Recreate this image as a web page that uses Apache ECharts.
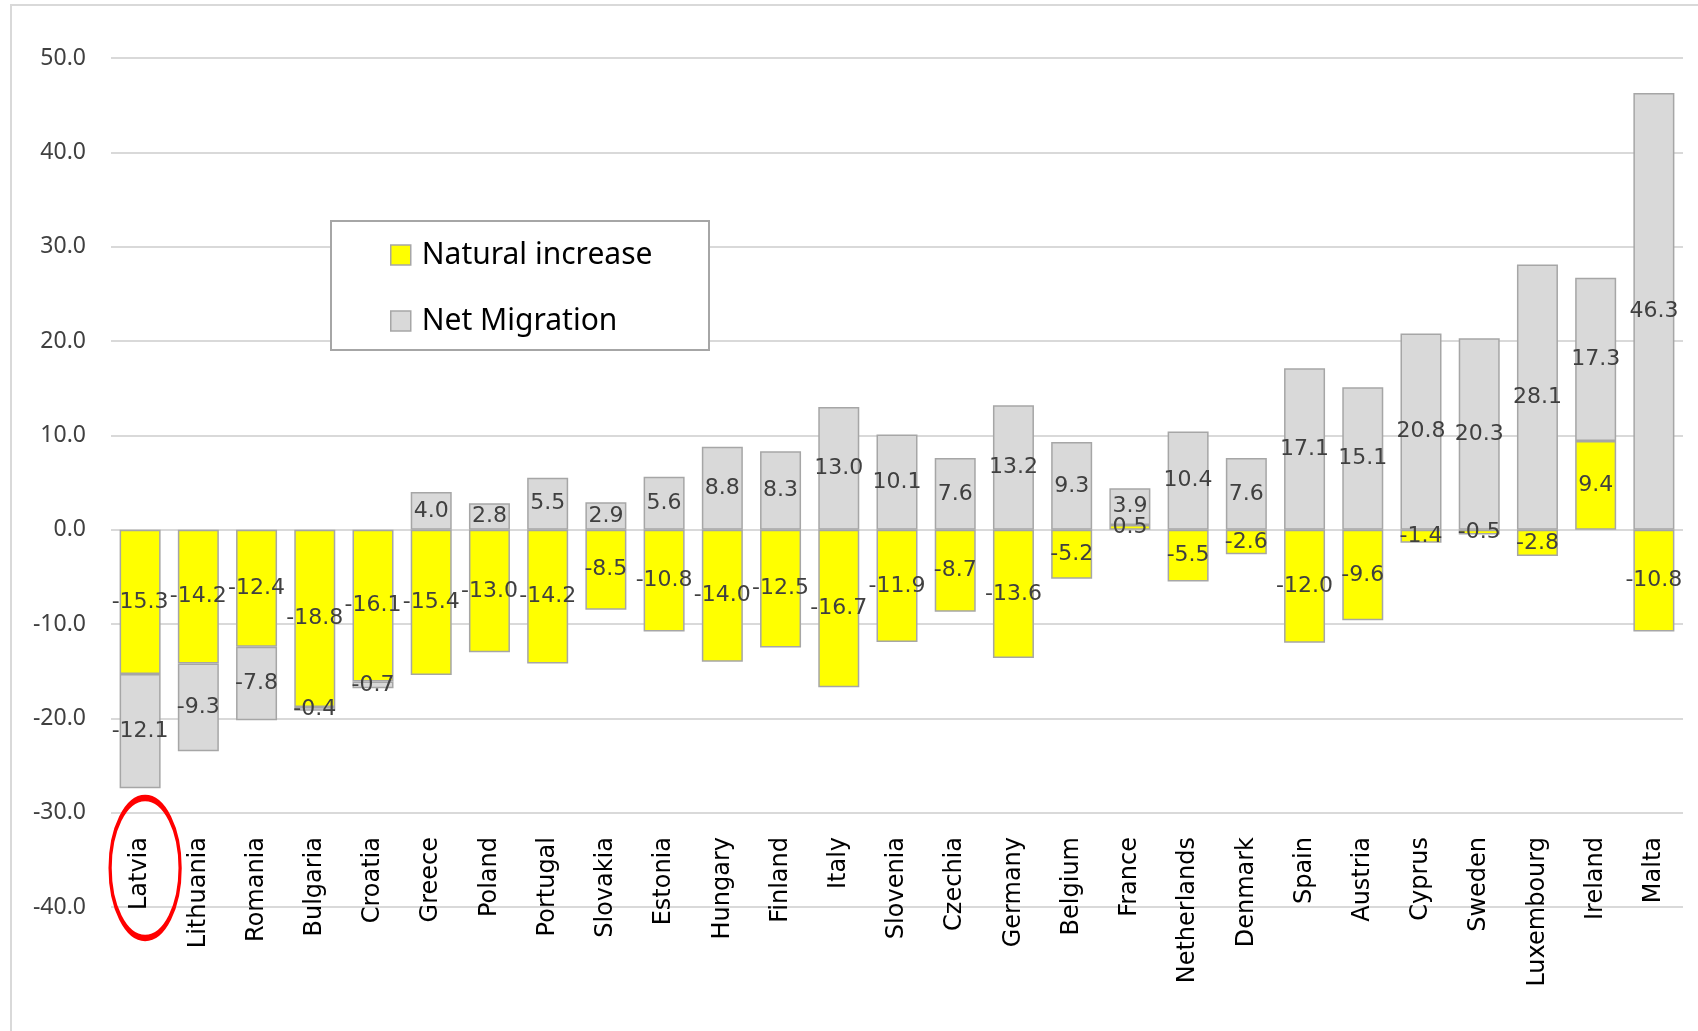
<!DOCTYPE html>
<html>
<head>
<meta charset="utf-8">
<script src="https://cdn.jsdelivr.net/npm/echarts@6/dist/echarts.min.js"></script>
<style>
html,body{margin:0;padding:0;background:#fff;}
#chart{width:1698px;height:1031px;}
</style>
</head>
<body>
<div id="chart"></div>
<script>
const categories = ['Latvia','Lithuania','Romania','Bulgaria','Croatia','Greece','Poland','Portugal','Slovakia','Estonia','Hungary','Finland','Italy','Slovenia','Czechia','Germany','Belgium','France','Netherlands','Denmark','Spain','Austria','Cyprus','Sweden','Luxembourg','Ireland','Malta'];
const naturalIncrease = [-15.3,-14.2,-12.4,-18.8,-16.1,-15.4,-13.0,-14.2,-8.5,-10.8,-14.0,-12.5,-16.7,-11.9,-8.7,-13.6,-5.2,0.5,-5.5,-2.6,-12.0,-9.6,-1.4,-0.5,-2.8,9.4,-10.8];
const netMigration = [-12.1,-9.3,-7.8,-0.4,-0.7,4.0,2.8,5.5,2.9,5.6,8.8,8.3,13.0,10.1,7.6,13.2,9.3,3.9,10.4,7.6,17.1,15.1,20.8,20.3,28.1,17.3,46.3];
const seriesNames = ['Natural increase','Net Migration'];
const yTicks = {min:-40, max:50, interval:10};

const chart = echarts.init(document.getElementById('chart'));
const labelStyle = {
  show:true, position:'inside', color:'#404040',
  fontFamily:'DejaVu Sans', fontSize:22,
  formatter: p => Number(p.value).toFixed(1)
};
const option = {
  animation:false,
  backgroundColor:'#fff',
  grid:{left:111,right:15,top:58,bottom:124,containLabel:false},
  legend:{
    data:seriesNames, orient:'vertical', left:390, top:240, z:10,
    icon:'rect',
    itemWidth:20, itemHeight:20, itemGap:36,
    padding:0,
    textStyle:{fontFamily:'Noto Sans', fontSize:30, color:'#000', padding:[0,0,0,6]},
    itemStyle:{borderColor:'#A6A6A6', borderWidth:1.5}
  },
  xAxis:{
    type:'category', data:categories, position:'bottom', offset:-72,
    axisLine:{show:false}, axisTick:{show:false}, splitLine:{show:false},
    axisLabel:{rotate:90, margin:2, interval:0, color:'#000', fontFamily:'DejaVu Sans', fontSize:24}
  },
  yAxis:{
    type:'value', min:yTicks.min, max:yTicks.max, interval:yTicks.interval,
    axisLine:{show:false}, axisTick:{show:false},
    splitLine:{lineStyle:{color:'#D9D9D9', width:2}},
    axisLabel:{margin:25, color:'#404040', fontFamily:'Noto Sans', fontSize:23, formatter:v=>v.toFixed(1)}
  },
  series:[
    {name:seriesNames[0], type:'bar', stack:'total', data:naturalIncrease, barWidth:41,
     itemStyle:{color:'#FFFF00', borderColor:'#A6A6A6', borderWidth:1.5}, label:labelStyle},
    {name:seriesNames[1], type:'bar', stack:'total', data:netMigration, barWidth:41,
     itemStyle:{color:'#D9D9D9', borderColor:'#A6A6A6', borderWidth:1.5}, label:labelStyle}
  ]
};
chart.setOption(option);
const cx = chart.convertToPixel({xAxisIndex:0}, categories[0]) + 5;
chart.setOption({
  graphic:[
    {type:'rect', z:1, silent:true, shape:{x:11,y:5,width:1720,height:1060}, style:{fill:'none', stroke:'#D9D9D9', lineWidth:2}},
    {type:'rect', z:3, silent:true, shape:{x:331,y:221,width:378,height:129}, style:{fill:'#fff', stroke:'#A6A6A6', lineWidth:2}},
    {type:'circle', z:20, silent:true, x:cx, y:868, scaleX:0.5, shape:{cx:0,cy:0,r:70}, style:{fill:'none', stroke:'#FF0000', lineWidth:6.5, strokeNoScale:true}}
  ]
});
</script>
</body>
</html>
